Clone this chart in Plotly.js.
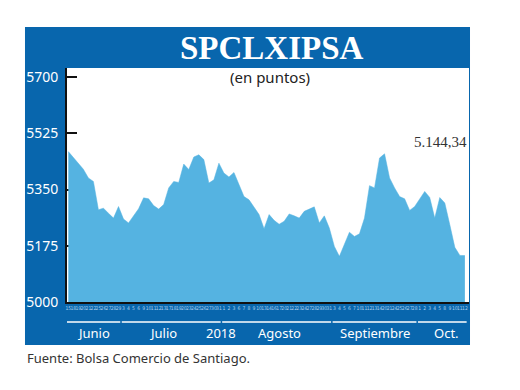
<!DOCTYPE html>
<html>
<head>
<meta charset="utf-8">
<script src="https://cdn.plot.ly/plotly-3.0.1.min.js"></script>
<style>
html,body{margin:0;padding:0;background:#fff;}
#chart{width:520px;height:390px;}
</style>
</head>
<body>
<div id="chart"></div>
<script>
// ---- data ----
var dates = [
  "2018-06-15","2018-06-18","2018-06-19","2018-06-20","2018-06-21","2018-06-22","2018-06-25","2018-06-26","2018-06-27","2018-06-28","2018-06-29",
  "2018-07-03","2018-07-04","2018-07-05","2018-07-06","2018-07-09","2018-07-10","2018-07-11","2018-07-12","2018-07-13","2018-07-17","2018-07-18","2018-07-19","2018-07-20","2018-07-23","2018-07-24","2018-07-25","2018-07-26","2018-07-27","2018-07-30","2018-07-31",
  "2018-08-01","2018-08-02","2018-08-03","2018-08-06","2018-08-07","2018-08-08","2018-08-09","2018-08-10","2018-08-13","2018-08-14","2018-08-16","2018-08-17","2018-08-20","2018-08-21","2018-08-22","2018-08-23","2018-08-24","2018-08-27","2018-08-28","2018-08-29","2018-08-30","2018-08-31",
  "2018-09-03","2018-09-04","2018-09-05","2018-09-06","2018-09-07","2018-09-10","2018-09-11","2018-09-12","2018-09-13","2018-09-14","2018-09-20","2018-09-21","2018-09-24","2018-09-25","2018-09-26","2018-09-27","2018-09-28",
  "2018-10-01","2018-10-02","2018-10-03","2018-10-04","2018-10-05","2018-10-08","2018-10-09","2018-10-10","2018-10-11","2018-10-12"
];
var values = [
  5468,5449,5432,5413,5386,5375,5287,5292,5276,5261,5297,
  5258,5246,5268,5290,5324,5321,5300,5289,5303,5355,5375,5372,5429,5412,5451,5458,5443,5370,5380,5432,
  5401,5389,5403,5365,5328,5318,5295,5272,5228,5272,5254,5242,5251,5274,5268,5261,5282,5290,5296,5246,5268,
  5230,5173,5142,5178,5217,5204,5212,5261,5362,5355,5448,5461,5386,5355,5328,5321,5285,5297,
  5320,5344,5325,5261,5325,5308,5240,5170,5145,5144.34
];
var yTicks = [5000, 5175, 5350, 5525, 5700];
var monthKeys = ["2018-06","2018-07","2018-08","2018-09","2018-10"];
var monthNames = ["Junio","Julio","Agosto","Septiembre","Oct."];
var yearLabel = "2018";
var titleText = "SPCLXIPSA";
var subtitleText = "(en puntos)";
var sourceText = "Fuente: Bolsa Comercio de Santiago.";

// ---- styling ----
var frameBlue = "#0866ad";
var areaBlue = "#55b3e1";
var dayLabels = dates.map(function(d){ return String(parseInt(d.slice(8,10),10)); });

function fmtEs(v){
  var parts = v.toFixed(2).split(".");
  var intPart = parts[0].replace(/\B(?=(\d{3})+(?!\d))/g, ".");
  return intPart + "," + parts[1];
}

var shapes = [];
var annotations = [];
// frame (paper coords computed from 402x234 plot area at l=67,t=68)
shapes.push({type:"rect", xref:"paper", yref:"paper", x0:-0.1045, x1:1.0025, y0:-0.1838, y1:1.1752,
  fillcolor:frameBlue, line:{width:0}, layer:"below"});
shapes.push({type:"rect", xref:"paper", yref:"paper", x0:0, x1:1, y0:0, y1:1,
  fillcolor:"#ffffff", line:{width:0}, layer:"below"});

var spans = monthKeys.map(function(k){
  var first = -1, last = -1;
  dates.forEach(function(d,i){ if(d.slice(0,7)===k){ if(first<0) first=i; last=i; } });
  return [first,last];
});
spans.forEach(function(s, m){
  shapes.push({type:"line", xref:"x", yref:"paper", x0:s[0]-0.35, x1:s[1]+0.35, y0:-0.0855, y1:-0.0855,
    line:{color:"#ffffff", width:1.5}});
  var shift = (m===1) ? -8 : (m===2 ? 3 : (m===4 ? 4 : 0));
  annotations.push({xref:"x", yref:"paper", x:(s[0]+s[1])/2, y:-0.1325, text:monthNames[m], showarrow:false,
    xanchor:"center", yanchor:"middle", xshift:shift, font:{family:"Noto Sans", size:13, color:"#ffffff"}});
});
// year label at Julio/Agosto boundary
annotations.push({xref:"x", yref:"paper", x:(spans[1][1]+spans[2][0])/2, y:-0.1325, text:yearLabel, showarrow:false,
  xanchor:"center", yanchor:"middle", font:{family:"Noto Sans", size:13, color:"#ffffff"}});
// last value
annotations.push({xref:"x", yref:"paper", x:dates[dates.length-1], y:0.684, text:fmtEs(values[values.length-1]),
  showarrow:false, xanchor:"right", yanchor:"middle", xshift:4, font:{family:"Liberation Serif", size:15, color:"#333333"}});
// title
annotations.push({xref:"paper", yref:"paper", x:0.51, y:1.085, text:titleText, showarrow:false,
  xanchor:"center", yanchor:"middle", font:{family:"Liberation Serif", size:33, color:"#ffffff", weight:"bold"}});
// subtitle
annotations.push({xref:"paper", yref:"paper", x:0.506, y:0.9615, text:subtitleText, showarrow:false,
  xanchor:"center", yanchor:"middle", font:{family:"Noto Sans", size:15, color:"#222222"}});
// source
annotations.push({xref:"paper", yref:"paper", x:-0.1045, y:-0.2375, text:sourceText, showarrow:false,
  xanchor:"left", yanchor:"middle", font:{family:"Noto Sans", size:13, color:"#333333"}});

var trace = {
  type:"scatter", mode:"lines", x:dates, y:values,
  fill:"tozeroy", fillcolor:areaBlue,
  line:{color:areaBlue, width:0.5},
  hoverinfo:"skip"
};

var layout = {
  width:520, height:390,
  margin:{l:67, r:51, t:68, b:88, pad:0},
  paper_bgcolor:"#ffffff", plot_bgcolor:"#ffffff",
  showlegend:false,
  xaxis:{type:"category", range:[-0.26, 79.82], tickmode:"array", tickvals:dates, ticktext:dayLabels,
    tickangle:0, ticks:"", showgrid:false, zeroline:false, showline:true, linecolor:"#111111", linewidth:2,
    tickfont:{family:"DejaVu Sans Condensed", size:5, color:"#a9cdec"}, fixedrange:true, layer:"below traces"},
  yaxis:{range:[5000, 5728], tickmode:"array", tickvals:yTicks, ticktext:yTicks.map(String),
    ticks:"inside", ticklen:10, tickwidth:2, tickcolor:"#111111", showgrid:false, zeroline:false,
    showline:true, linecolor:"#111111", linewidth:2, ticklabelstandoff:4,
    tickfont:{family:"Noto Sans", size:14, color:"#ffffff"}, fixedrange:true, layer:"below traces"},
  shapes:shapes,
  annotations:annotations
};

Plotly.newPlot("chart", [trace], layout, {staticPlot:true, displayModeBar:false});
</script>
</body>
</html>
